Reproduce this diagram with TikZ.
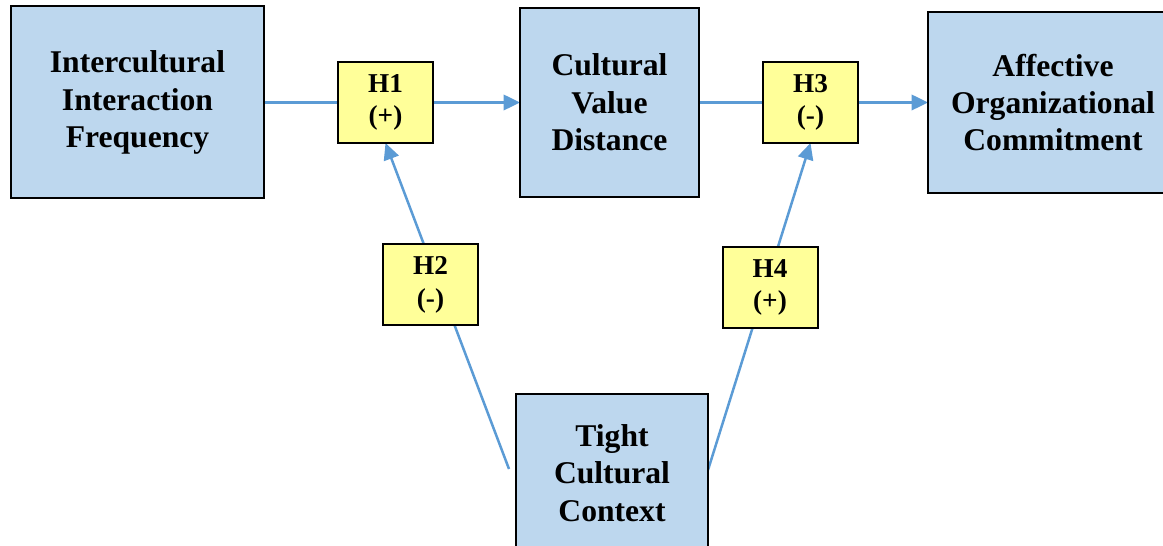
\documentclass[tikz,border=0pt]{standalone}
\usepackage{fontspec}
\setmainfont{Liberation Serif}
\usetikzlibrary{positioning,calc,arrows.meta,backgrounds}
\definecolor{boxblue}{HTML}{BDD7EE}
\definecolor{hypyellow}{HTML}{FFFF99}
\definecolor{linkblue}{HTML}{5B9BD5}

\begin{document}
\begin{tikzpicture}[
	construct/.style={draw,line width=0.04cm,outer sep=0,fill=boxblue,align=center,inner sep=0,font=\fontsize{18}{21.3}\selectfont\bfseries},
	hypo/.style={draw,line width=0.04cm,outer sep=0,fill=hypyellow,align=center,inner sep=0,minimum width=1.9cm,minimum height=1.62cm,font=\fontsize{15.5}{18.5}\selectfont\bfseries},
	link/.style={draw,color=linkblue,line width=0.05cm},
	arrowtip/.style={-{Triangle[length=0.33cm,width=0.31cm]}}]

\useasboundingbox (0,0) rectangle (23.26,-10.92);

\node [construct,minimum width=5.06cm,minimum height=3.84cm] (n0) at (2.75,-2.05) {Intercultural\\Interaction\\Frequency};

\node [hypo] (h1) [right=1.48 of n0] {H1\\(+)};
\node [construct,minimum width=3.58cm,minimum height=3.78cm] (n1) [right=1.74 of h1] {Cultural\\Value\\Distance};
\node [hypo] (h3) [right=1.28 of n1] {H3\\(-)};
\node [construct,minimum width=5.0cm,minimum height=3.62cm] (n2) [right=1.4 of h3] {Affective\\Organizational\\Commitment};

\node [construct,minimum width=3.84cm,minimum height=3.16cm] (n3) at (12.24,-9.46) {Tight\\Cultural\\Context};
\node [hypo] (h2) at (8.61,-5.7) {H2\\(-)};
\node [hypo] (h4) at (15.4,-5.75) {H4\\(+)};

\coordinate (n3l) at ($(n3.west)+(-0.14,0.08)$);
\coordinate (n3r) at ($(n3.east)+(0,0.06)$);

\begin{scope}[on background layer]
\path [link]
	(n0)
		edge (h1)
	(h1)
		edge [arrowtip] (n1)
	(n1)
		edge (h3)
	(h3)
		edge [arrowtip] (n2)
	(n3l)
		edge [arrowtip] (h1.south)
	(n3r)
		edge [arrowtip] (h3.south)
;
\end{scope}

\end{tikzpicture}
\end{document}
